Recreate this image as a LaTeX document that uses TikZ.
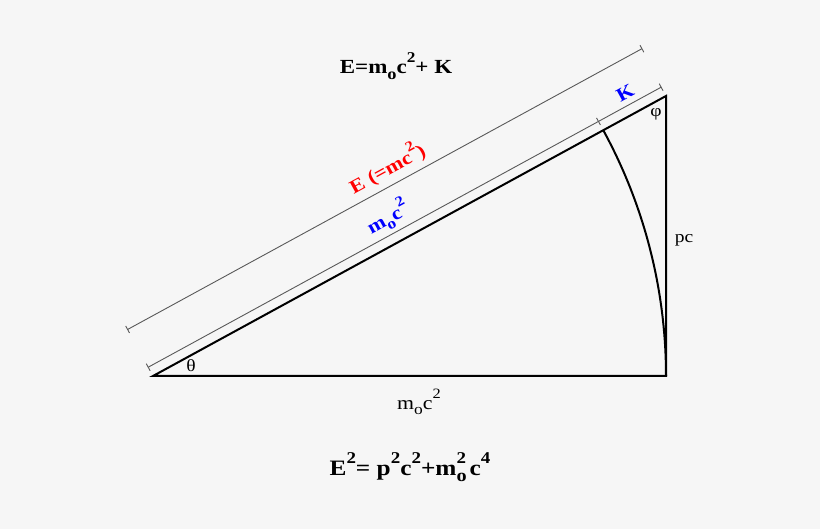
\documentclass[tikz,border=0pt]{standalone}
\usepackage{fontspec}
\setmainfont{Liberation Serif}[FakeStretch=1.15]
\usetikzlibrary{calc}
\definecolor{bgcol}{RGB}{246,246,246}
\newcommand{\sbo}{\raisebox{-0.3em}{\scalebox{0.8}{o}}}
\newcommand{\pw}[1]{\raisebox{0.55em}{\scalebox{0.75}{#1}}}
\newcommand{\mos}{m\rlap{\sbo}\pw{2}}

\begin{document}
\begin{tikzpicture}[x=1pt, y=1pt,
    side/.style={line width=2pt},
    dim/.style={draw=black!65, line width=0.9pt},
    lbl/.style={font=\fontsize{17}{20}\selectfont},
    blbl/.style={font=\fontsize{19}{22}\selectfont\bfseries, transform shape}]
\useasboundingbox[fill=bgcol] (0,0) rectangle (820,529);
% triangle
\coordinate (A) at (153,153);
\coordinate (B) at (666,153);
\coordinate (C) at (666,433);
\draw[side] (A) -- (B) -- (C) -- cycle;
\draw[side] (B) arc[start angle=0, end angle=28.63, radius=513];
% dimension lines along the hypotenuse
\begin{scope}[shift={(A)}, rotate=28.63]
\draw[dim] (0,10) -- (584.4,10);
\draw[dim] (0,53) -- (586,53);
\foreach \p/\h in {0/10, 513/10, 584.4/10, 0/53, 586/53}
  \draw[dim] (\p,\h-4) -- (\p,\h+4);
\node[blbl, text=red] (etot) at (305,71) {E (=mc\pw{2})};
\node[blbl, text=blue] (rest) at (282,27) {m\sbo c\pw{2}};
\node[blbl, text=blue] (kin) at (550,22) {K};
\end{scope}
% labels
\node[lbl] (phi) at (656,415) {φ};
\node[lbl] (theta) at (191,163) {θ};
\node[lbl] (pc) at (684,289) {pc};
\node[lbl, font=\fontsize{19}{22}\selectfont] (base) at (419,127) {m\sbo c\pw{2}};
\node[font=\fontsize{20}{24}\selectfont\bfseries] (topeq) at (396,463) {E=m\sbo c\pw{2}+ K};
\node[font=\fontsize{22}{26}\selectfont\bfseries] (boteq) at (410,62) {E\pw{2}= p\pw{2}c\pw{2}+\mos\,c\pw{4}};
\end{tikzpicture}
\end{document}
